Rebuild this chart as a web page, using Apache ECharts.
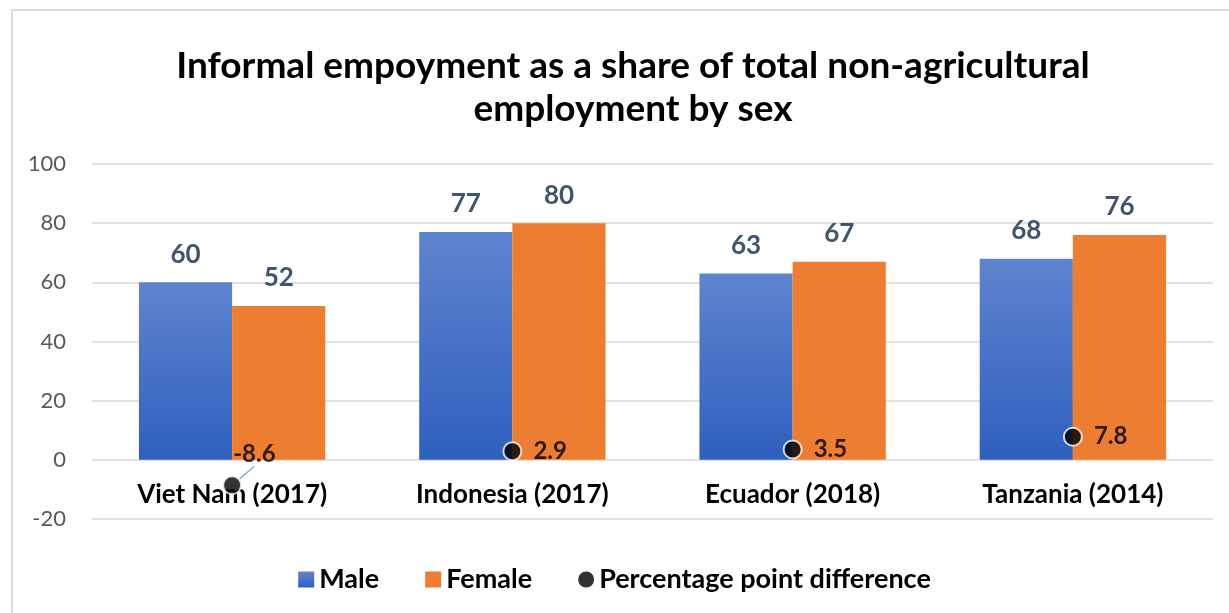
<!DOCTYPE html>
<html>
<head>
<meta charset="utf-8">
<script src="https://cdn.jsdelivr.net/npm/echarts@6/dist/echarts.min.js"></script>
<style>html,body{margin:0;padding:0;background:#fff}#c{width:1229px;height:613px}</style>
</head>
<body>
<div id="c"></div>
<script>
const categories = ['Viet Nam (2017)', 'Indonesia (2017)', 'Ecuador (2018)', 'Tanzania (2014)'];
const maleValues = [60, 77, 63, 68];
const femaleValues = [52, 80, 67, 76];
const diffValues = [-8.6, 2.9, 3.5, 7.8];
const yTicks = [-20, 0, 20, 40, 60, 80, 100];

const FONT = 'Lato';
const chart = echarts.init(document.getElementById('c'));
const diffData = diffValues.map((v, i) => i === 0
  ? { value: v, labelLine: { show: true, lineStyle: { color: '#8FAADC', width: 1.5 } } }
  : { value: v });
chart.setOption({
  animation: false,
  textStyle: { fontFamily: FONT },
  graphic: [{
    type: 'rect', shape: { x: 12, y: 10, width: 1240, height: 640 },
    style: { fill: 'none', stroke: '#D9DEEA', lineWidth: 2 }, silent: true
  }],
  title: {
    text: 'Informal empoyment as a share of total non-agricultural\nemployment by sex',
    left: 628, top: 40, textAlign: 'center',
    textStyle: { fontFamily: FONT, fontWeight: 'bold', fontSize: 37, lineHeight: 43, color: '#000' }
  },
  legend: {
    top: 561, left: 'center', itemWidth: 16, itemHeight: 16, itemGap: 46,
    textStyle: { fontFamily: FONT, fontSize: 27, fontWeight: 'bold', color: '#000' },
    data: [
      { name: 'Male', icon: 'rect' },
      { name: 'Female', icon: 'rect' },
      { name: 'Percentage point difference', icon: 'circle', itemStyle: { borderWidth: 0 } }
    ]
  },
  grid: { left: 92, right: 16, top: 164, bottom: 94, containLabel: false },
  xAxis: {
    type: 'category', data: categories, offset: -59,
    axisLine: { show: false },
    axisTick: { show: false },
    axisLabel: { margin: 22, fontFamily: FONT, fontSize: 26, fontWeight: 'bold', color: '#000' }
  },
  yAxis: {
    type: 'value', min: yTicks[0], max: yTicks[yTicks.length - 1], interval: 20,
    axisLabel: { margin: 26, fontFamily: FONT, fontSize: 22, color: '#595959' },
    splitLine: { lineStyle: { color: '#D9D9D9', width: 1.5 } },
    axisLine: { show: false }, axisTick: { show: false }
  },
  series: [
    {
      name: 'Male', type: 'bar', data: maleValues, barGap: '0%', barCategoryGap: '33.5%',
      itemStyle: {
        color: new echarts.graphic.LinearGradient(0, 0, 0, 1, [
          { offset: 0, color: '#5F84CE' }, { offset: 1, color: '#2F5FBE' }
        ])
      },
      label: { show: true, position: 'top', distance: 15, fontFamily: FONT, fontSize: 26, fontWeight: 'bold', color: '#44546A' }
    },
    {
      name: 'Female', type: 'bar', data: femaleValues,
      itemStyle: { color: '#ED7D31' },
      label: { show: true, position: 'top', distance: 15, fontFamily: FONT, fontSize: 26, fontWeight: 'bold', color: '#44546A' }
    },
    {
      name: 'Percentage point difference', type: 'scatter', data: diffData,
      symbol: 'circle', symbolSize: 18,
      itemStyle: { color: '#000', borderColor: '#fff', borderWidth: 2 },
      label: { show: true, position: 'right', distance: 11, fontFamily: FONT, fontSize: 24, fontWeight: 'bold', color: '#000' },
      labelLine: { show: false },
      labelLayout: function (params) {
        if (params.dataIndex === 0) return { dx: -20, dy: -31 };
        return {};
      },
      z: 5
    }
  ]
});
</script>
</body>
</html>
